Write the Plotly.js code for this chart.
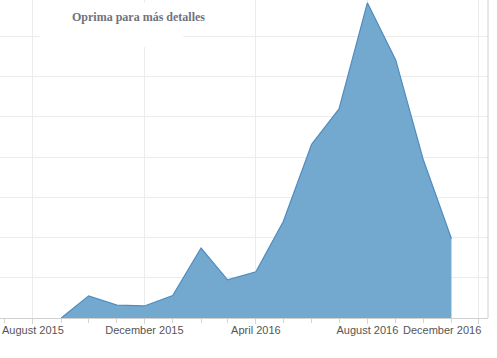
<!DOCTYPE html>
<html>
<head>
<meta charset="utf-8">
<script src="https://cdn.plot.ly/plotly-3.0.1.min.js"></script>
<style>html,body{margin:0;padding:0;background:#fff;}#chart{width:497px;height:358px;}</style>
</head>
<body>
<div id="chart"></div>
<script>
const months = ['2015-09-01','2015-10-01','2015-11-01','2015-12-01','2016-01-01','2016-02-01','2016-03-01','2016-04-01','2016-05-01','2016-06-01','2016-07-01','2016-08-01','2016-09-01','2016-10-01','2016-11-01'];
const values = [0, 5.5, 3.2, 3.0, 5.6, 17.4, 9.5, 11.5, 24.0, 43.2, 52.0, 78.4, 64.2, 39.5, 19.7];
const tickDates = ['2015-08-01','2015-12-01','2016-04-01','2016-08-01','2016-12-01'];
const tickLabels = ['August 2015','December 2015','April 2016','August 2016','December 2016'];
const noteText = 'Oprima para más detalles';

const labelFont = {family: 'Liberation Sans, Arial, sans-serif', size: 11, color: '#555555'};

const annotations = [{
  xref: 'paper', yref: 'paper', x: 138/487, y: 1 - 17/318,
  xanchor: 'center', yanchor: 'middle', showarrow: false,
  text: '<b>' + noteText + '</b>',
  font: {family: 'Liberation Serif, Times New Roman, serif', size: 12, color: '#70737d'}
}, {
  xref: 'x', yref: 'paper', x: tickDates[4], y: 0, yshift: -4,
  xanchor: 'right', yanchor: 'top', xshift: 4, showarrow: false,
  text: tickLabels[4], font: labelFont
}];

Plotly.newPlot('chart', [{
  x: months, y: values, type: 'scatter', mode: 'lines',
  fill: 'tozeroy', fillcolor: 'rgba(116,169,207,1)',
  line: {color: '#4f8cc0', width: 1.2},
  hoverinfo: 'skip'
}], {
  width: 497, height: 358,
  margin: {l: 0, r: 9, t: 0, b: 40},
  paper_bgcolor: '#fff', plot_bgcolor: '#fff',
  showlegend: false,
  xaxis: {
    type: 'date', range: ['2015-06-26', '2016-12-11'],
    tickvals: tickDates, ticktext: tickLabels.slice(0, 4).concat(['']),
    tickfont: labelFont, ticks: 'outside', ticklen: 5, tickcolor: '#d4d4d4',
    ticklabelstandoff: -3,
    showgrid: true, gridcolor: '#ececec', gridwidth: 1,
    showline: true, linecolor: '#d0d0d0', linewidth: 1, mirror: false,
    zeroline: false, fixedrange: true,
    minor: {dtick: 'M1', tick0: '2015-08-01', ticks: 'outside', ticklen: 4, tickcolor: '#d4d4d4', showgrid: false}
  },
  yaxis: {
    range: [0, 79.1], dtick: 10, showticklabels: false,
    showgrid: true, gridcolor: '#ececec', gridwidth: 1,
    zeroline: false, showline: false, fixedrange: true
  },
  shapes: [{
    type: 'rect', xref: 'paper', yref: 'paper', layer: 'above',
    x0: 40/487, x1: 183/487, y0: 1 - 47/318, y1: 1 - 3/318,
    fillcolor: '#ffffff', line: {width: 0}
  }, {
    type: 'line', xref: 'paper', yref: 'paper', x0: 1, x1: 1, y0: 0, y1: 1,
    line: {color: '#d0d0d0', width: 1}
  }],
  annotations: annotations
}, {displayModeBar: false, staticPlot: true});
</script>
</body>
</html>
